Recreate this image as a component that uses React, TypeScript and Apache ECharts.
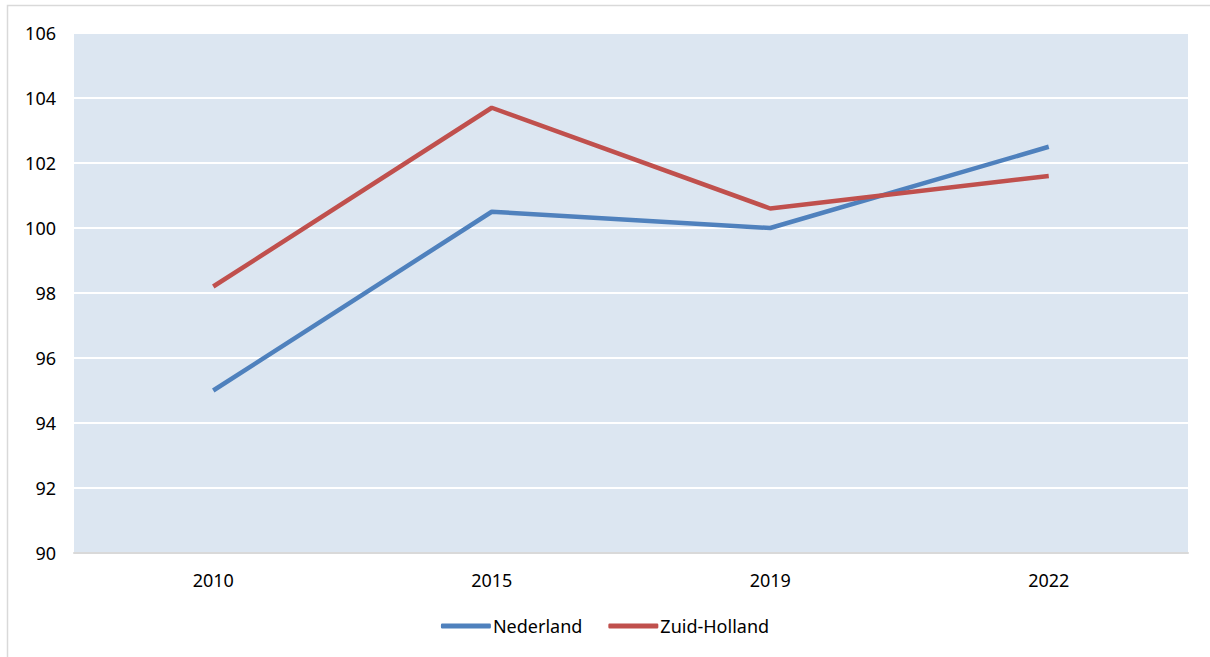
import React, { useEffect, useRef } from "react";
import * as echarts from "echarts";

const categories = ["2010", "2015", "2019", "2022"];
const nederland = [95.0, 100.5, 100.0, 102.5];
const zuidHolland = [98.2, 103.7, 100.6, 101.6];
const seriesNames = ["Nederland", "Zuid-Holland"];

export default function App() {
  const ref = useRef<HTMLDivElement>(null);
  useEffect(() => {
    if (!ref.current) return;
    const chart = echarts.init(ref.current, null, { renderer: "svg" });
    const font = "Noto Sans";
    chart.setOption({
      animation: false,
      backgroundColor: "#ffffff",
      graphic: [
        {
          type: "rect",
          shape: { x: 7.5, y: 5.5, width: 1300, height: 700 },
          style: { fill: "none", stroke: "#d9d9d9", lineWidth: 1.5 },
          silent: true,
          z: -1,
        },
      ],
      grid: { left: 74, right: 22, top: 33, bottom: 104, show: true, backgroundColor: "#dce6f1", borderWidth: 0 },
      legend: {
        bottom: 17,
        left: "center",
        itemWidth: 50,
        itemHeight: 5,
        itemGap: 26,
        icon: "roundRect",
        textStyle: { fontFamily: font, fontSize: 18, color: "#000", padding: [0, 0, 0, -3] },
        data: seriesNames,
      },
      xAxis: {
        type: "category",
        data: categories,
        boundaryGap: true,
        axisLine: { show: true, lineStyle: { color: "#d9d9d9", width: 2 } },
        axisTick: { show: false },
        axisLabel: { fontFamily: font, fontSize: 18, color: "#000", margin: 18 },
      },
      yAxis: {
        type: "value",
        min: 90,
        max: 106,
        interval: 2,
        axisLine: { show: false },
        axisTick: { show: false },
        splitLine: { show: true, lineStyle: { color: "#ffffff", width: 2 } },
        axisLabel: { fontFamily: font, fontSize: 18, color: "#000", margin: 18 },
      },
      series: [
        {
          name: seriesNames[0],
          type: "line",
          data: nederland,
          symbol: "none",
          lineStyle: { color: "#4f81bd", width: 4.5 },
          itemStyle: { color: "#4f81bd" },
        },
        {
          name: seriesNames[1],
          type: "line",
          data: zuidHolland,
          symbol: "none",
          lineStyle: { color: "#c0504d", width: 4.5 },
          itemStyle: { color: "#c0504d" },
        },
      ],
    });
    return () => chart.dispose();
  }, []);
  return <div ref={ref} style={{ position: "fixed", left: 0, top: 0, width: 1210, height: 657 }} />;
}
